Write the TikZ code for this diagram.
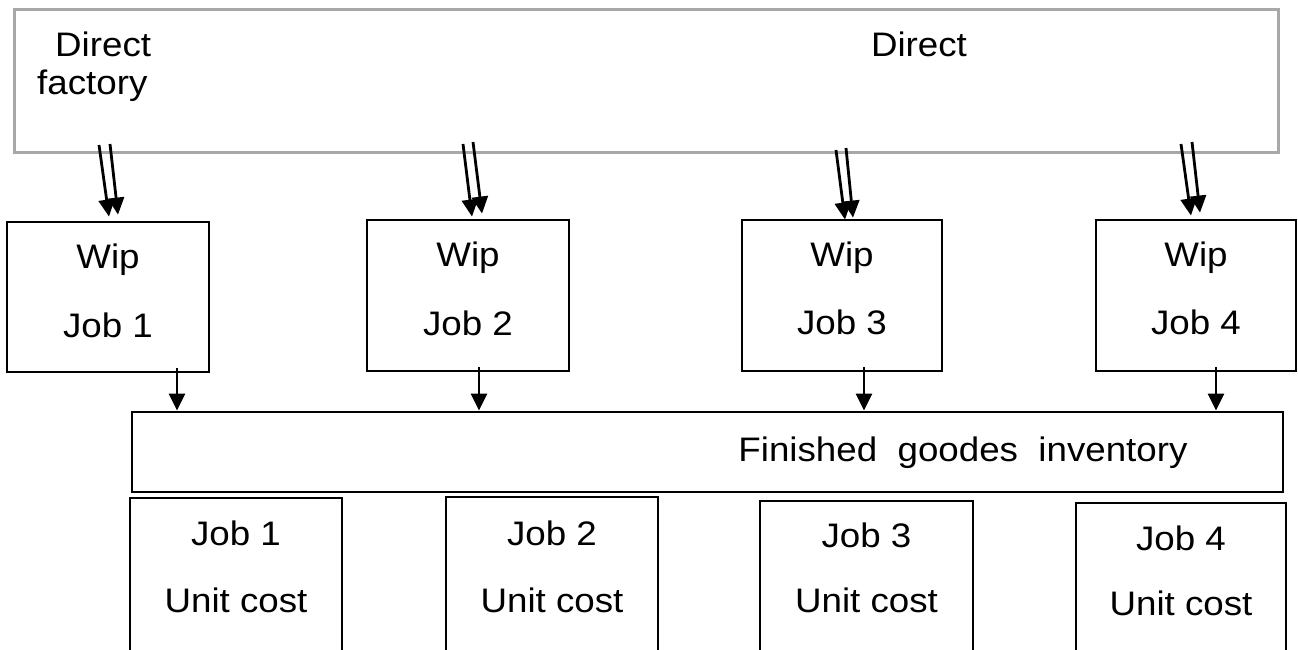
\documentclass[tikz,border=0pt]{standalone}
\usepackage{fontspec}
\setmainfont[FakeStretch=1.08]{Liberation Sans}
\usetikzlibrary{arrows.meta,calc}
\definecolor{framegray}{RGB}{168,168,168}
\newcommand{\lbl}{\fontsize{34}{40}\selectfont}
\tikzset{
  box/.style={draw, line width=2.8pt, inner sep=0pt},
  srcbox/.style={draw=framegray, line width=3pt, inner sep=0pt},
  txt/.style={font=\lbl, inner sep=0pt, anchor=base},
  arr/.style={line width=2.8pt, -{Triangle[width=16pt,length=17pt]}},
}
\begin{document}
\begin{tikzpicture}[x=1pt,y=-1pt]
\useasboundingbox (0,0) rectangle (1298,650);

% source of direct costs
\node[srcbox, minimum width=1264, minimum height=142] (src) at (646,81) {};
\node[txt, anchor=base west] (t1) at (55,57) {Direct};
\node[txt, anchor=base west] (t2) at (37,95) {factory};
\node[txt] (t3) at (919,57) {Direct};

% work in process accounts
\node[box, minimum width=202, minimum height=150] (w1) at (108,297) {};
\node[box, minimum width=202, minimum height=151] (w2) at (468,295.5) {};
\node[box, minimum width=200, minimum height=151] (w3) at (842,295.5) {};
\node[box, minimum width=200, minimum height=151] (w4) at (1196,295.5) {};
\node[txt] (w1a) at (108,268) {Wip};
\node[txt] (w1b) at (108,337) {Job 1};
\node[txt] (w2a) at (468,266) {Wip};
\node[txt] (w2b) at (468,335) {Job 2};
\node[txt] (w3a) at (842,266) {Wip};
\node[txt] (w3b) at (842,334) {Job 3};
\node[txt] (w4a) at (1196,266) {Wip};
\node[txt] (w4b) at (1196,334) {Job 4};

% finished goods
\node[box, minimum width=1151, minimum height=80] (fg) at (707.5,452) {};
\node[txt] (fgt) at (963,461) {Finished\ \ goodes\ \ inventory};

% unit cost cards (open at the bottom edge)
\node[box, minimum width=212, minimum height=172] (u1) at (236,584) {};
\node[box, minimum width=212, minimum height=173] (u2) at (552,583.5) {};
\node[box, minimum width=213, minimum height=169] (u3) at (866.5,585.5) {};
\node[box, minimum width=210, minimum height=167] (u4) at (1181,586.5) {};
\node[txt] (u1a) at (236,545) {Job 1};
\node[txt] (u1b) at (236,612) {Unit cost};
\node[txt] (u2a) at (552,545) {Job 2};
\node[txt] (u2b) at (552,612) {Unit cost};
\node[txt] (u3a) at (866.5,547) {Job 3};
\node[txt] (u3b) at (866.5,612) {Unit cost};
\node[txt] (u4a) at (1181,550) {Job 4};
\node[txt] (u4b) at (1181,615) {Unit cost};

% double arrows from the source box
\coordinate (d1a) at (99,145);   \coordinate (d1b) at (110,144);
\coordinate (d2a) at (463,144);  \coordinate (d2b) at (473,142);
\coordinate (d3a) at (836,150);  \coordinate (d3b) at (846,148);
\coordinate (d4a) at (1181,144); \coordinate (d4b) at (1192,142);
\draw[arr] (d1a) -- ($(w1.north)+(1,-4)$);
\draw[arr] (d1b) -- ($(w1.north)+(10,-6)$);
\draw[arr] (d2a) -- ($(w2.north)+(4,-2)$);
\draw[arr] (d2b) -- ($(w2.north)+(14,-5)$);
\draw[arr] (d3a) -- ($(w3.north)+(3,1)$);
\draw[arr] (d3b) -- ($(w3.north)+(11,-1)$);
\draw[arr] (d4a) -- ($(w4.north)+(-5,-3)$);
\draw[arr] (d4b) -- ($(w4.north)+(4,-6)$);

% transfers to finished goods
\coordinate (f1) at (177,368);
\coordinate (f2) at (479,367);
\coordinate (f3) at (864,367);
\coordinate (f4) at (1216,367);
\draw[arr] (f1) -- (f1 |- fg.north);
\draw[arr] (f2) -- (f2 |- fg.north);
\draw[arr] (f3) -- (f3 |- fg.north);
\draw[arr] (f4) -- (f4 |- fg.north);
\end{tikzpicture}
\end{document}
